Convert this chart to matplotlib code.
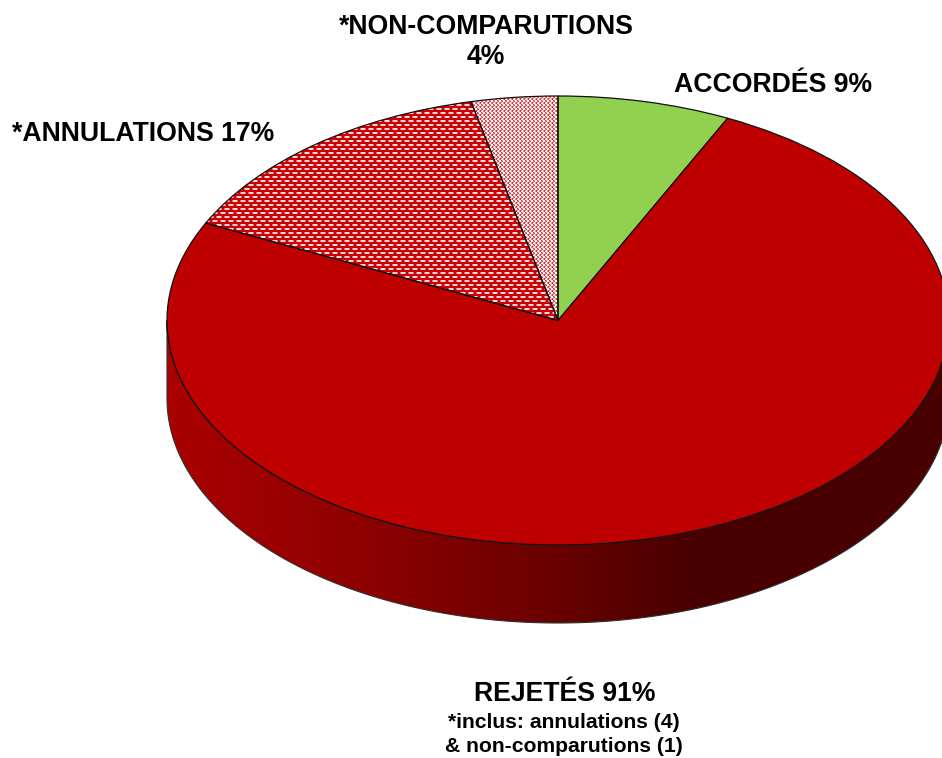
import numpy as np
import matplotlib
matplotlib.use("Agg")
import matplotlib.pyplot as plt
from matplotlib.colors import LinearSegmentedColormap
from matplotlib.patches import PathPatch
from matplotlib.path import Path

# decisions (counts): accordes, rejetes, annulations, non-comparutions
counts = [2, 21, 4, 1]
slice_colors = ["#92D050", "#BE0000", "none", "none"]

W, H = 942, 758
CX, CY = 558, 320.5    # centre of the pie top, in pixels
RX, RY = 391, 224.5    # ellipse radii
DEPTH = 78             # height of the side wall


def dx(px):
    return (px - CX) / RX


def dy(py):
    return (CY - py) / RY


plt.rcParams["font.family"] = ["Liberation Sans", "DejaVu Sans"]

fig = plt.figure(figsize=(W / 100, H / 100), dpi=100)
ax = fig.add_axes([0, 0, 1, 1])

wedges, _ = ax.pie(counts, colors=slice_colors, startangle=90, counterclock=False,
                   wedgeprops={"edgecolor": "#101010", "linewidth": 0.9, "zorder": 4})
ax.set_aspect("auto")
ax.set_xlim(dx(0), dx(W))
ax.set_ylim(dy(H), dy(0))
ax.axis("off")

# side wall, gradient clipped to the front of the cylinder
t = np.linspace(np.pi, 2 * np.pi, 300)
top = np.column_stack([np.cos(t), np.sin(t)])
bottom = np.column_stack([np.cos(t[::-1]), np.sin(t[::-1]) - DEPTH / RY])
wall_path = Path(np.vstack([top, bottom, top[:1]]), closed=True)
wall = PathPatch(wall_path, facecolor="none", edgecolor="#303030", linewidth=0.8, zorder=3)
ax.add_patch(wall)
wall_cmap = LinearSegmentedColormap.from_list(
    "wall", [(0, "#AA0000"), (0.25, "#8E0000"), (0.5, "#680000"), (0.66, "#4A0000"), (1, "#480000")])
grad = ax.imshow(np.linspace(0, 1, 256)[None, :], cmap=wall_cmap, aspect="auto", zorder=2,
                 extent=[-1, 1, -1 - DEPTH / RY, 0])
grad.set_clip_path(wall)


def texture(tile, wedge):
    # repeat a small pixel tile over the picture, keep it inside the slice
    h, w = tile.shape[:2]
    img = np.tile(tile, (H // h + 1, W // w + 1, 1))[:H, :W]
    im = ax.imshow(img, extent=[dx(0), dx(W), dy(H), dy(0)], aspect="auto",
                   interpolation="nearest", zorder=2)
    im.set_clip_path(wedge)


R = [0.80, 0.0, 0.02]
L = [0.98, 0.85, 0.85]
S = [0.88, 0.42, 0.44]
P = [0.94, 0.55, 0.57]
D = [0.85, 0.20, 0.22]
K = [1.0, 1.0, 1.0]

brick = np.array([R] * 64, dtype=float).reshape(8, 8, 3)
brick[0:2, 1:5] = L
brick[0:2, 0] = S
brick[0:2, 5] = S
brick[4:6, 5:8] = L
brick[4:6, 0] = L
brick[4:6, 4] = S
brick[4:6, 1] = S
texture(brick, wedges[2])

fine = np.array([[K, D, P, K], [K, P, D, K], [D, P, K, P], [D, K, K, P]], dtype=float)
texture(fine, wedges[3])

ax.set_xlim(dx(0), dx(W))
ax.set_ylim(dy(H), dy(0))

big = {"fontsize": 19.2, "fontweight": "bold", "color": "black", "va": "center", "ha": "center"}
small = {"fontsize": 15.2, "fontweight": "bold", "color": "black", "va": "center", "ha": "center"}
ax.text(dx(486), dy(27), "*NON-COMPARUTIONS", **big)
ax.text(dx(486), dy(57), "4%", **big)
ax.text(dx(773), dy(85), "ACCORDÉS 9%", **big)
ax.text(dx(143), dy(134), "*ANNULATIONS 17%", **big)
ax.text(dx(565), dy(694), "REJETÉS 91%", **big)
ax.text(dx(564), dy(722.5), "*inclus: annulations (4)", **small)
ax.text(dx(564), dy(747), "& non-comparutions (1)", **small)

fig.savefig("out.png", dpi=100)
